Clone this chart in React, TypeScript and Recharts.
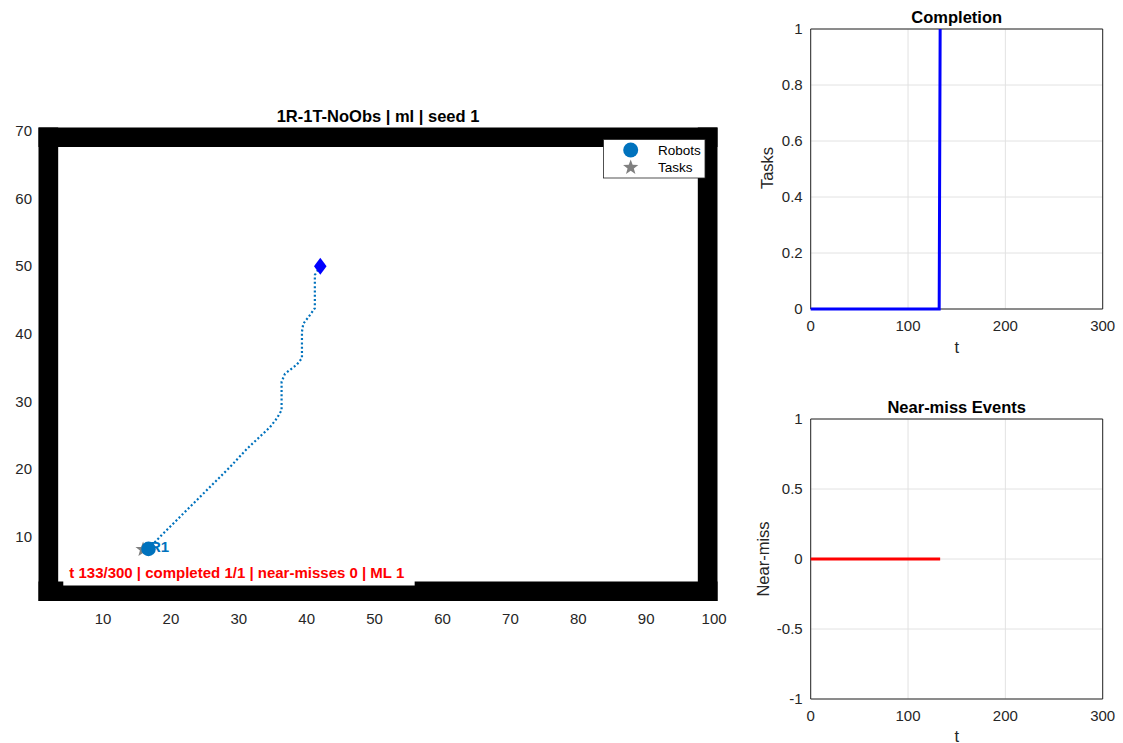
import React from 'react';
import {
  ComposedChart,
  Scatter,
  Line,
  XAxis,
  YAxis,
  CartesianGrid,
  ReferenceArea,
} from 'recharts';

const FONT = '"Liberation Sans", Arial, Helvetica, sans-serif';
const INK = '#262626';
const ROBOT_BLUE = '#0072BD';

// arena (map units)
const mapXTicks = [10, 20, 30, 40, 50, 60, 70, 80, 90, 100];
const mapYTicks = [10, 20, 30, 40, 50, 60, 70];

const walls = [
  { x1: 0.5, x2: 3.4, y1: 0.5, y2: 70.5 },
  { x1: 97.6, x2: 100.5, y1: 0.5, y2: 70.5 },
  { x1: 0.5, x2: 100.5, y1: 0.5, y2: 3.4 },
  { x1: 0.5, x2: 100.5, y1: 67.6, y2: 70.5 },
];

const trajectory = [
  { x: 42.0, y: 50.0 },
  { x: 41.2, y: 48.7 },
  { x: 41.2, y: 43.8 },
  { x: 40.5, y: 42.8 },
  { x: 39.5, y: 41.5 },
  { x: 39.3, y: 40.3 },
  { x: 39.3, y: 36.4 },
  { x: 38.5, y: 35.4 },
  { x: 36.8, y: 34.1 },
  { x: 36.3, y: 32.9 },
  { x: 36.3, y: 28.7 },
  { x: 35.6, y: 27.5 },
  { x: 34.6, y: 26.2 },
  { x: 31.2, y: 23.0 },
  { x: 28.7, y: 20.3 },
  { x: 23.8, y: 15.4 },
  { x: 18.6, y: 10.2 },
  { x: 16.7, y: 8.2 },
];

const robotStart = [{ x: 42, y: 50 }];
const robots = [{ x: 16.7, y: 8.2, name: 'R1' }];
const tasks = [{ x: 15.9, y: 8.1 }];
const statusBox = { x1: 4.15, x2: 55.9, y1: 2.8, y2: 6.6 };
const statusText = 't 133/300 | completed 1/1 | near-misses 0 | ML 1';

// time series
const tTicks = [0, 100, 200, 300];
const completionTicks = [0, 0.2, 0.4, 0.6, 0.8, 1];
const nearMissTicks = [-1, -0.5, 0, 0.5, 1];
const completion = [
  { t: 0, v: 0 },
  { t: 132, v: 0 },
  { t: 133, v: 1 },
];
const nearMiss = [
  { t: 0, v: 0 },
  { t: 133, v: 0 },
];

const tickStyle = { fill: INK, fontSize: 15, fontFamily: FONT };

function starPoints(cx: number, cy: number, R: number, r: number): string {
  const pts: string[] = [];
  for (let i = 0; i < 10; i++) {
    const rad = i % 2 === 0 ? R : r;
    const a = -Math.PI / 2 + (i * Math.PI) / 5;
    pts.push(`${cx + rad * Math.cos(a)},${cy + rad * Math.sin(a)}`);
  }
  return pts.join(' ');
}

const NoMarker = () => <g />;

const DiamondMarker = (p: any) => (
  <polygon
    points={`${p.cx},${p.cy - 8.5} ${p.cx + 6.3},${p.cy} ${p.cx},${p.cy + 8.5} ${p.cx - 6.3},${p.cy}`}
    fill="#0000FF"
  />
);

const StarMarker = (p: any) => (
  <polygon points={starPoints(p.cx, p.cy, 8, 3.3)} fill="#808080" />
);

const RobotMarker = (p: any) => (
  <g>
    <text
      x={p.cx + 1.5}
      y={p.cy + 3.5}
      fill={ROBOT_BLUE}
      fontSize={15}
      fontWeight="bold"
      fontFamily={FONT}
    >
      {p.payload?.name ?? robots[0].name}
    </text>
    <circle cx={p.cx} cy={p.cy} r={7.3} fill={ROBOT_BLUE} />
  </g>
);

// inward MATLAB-style tick marks: mirrored axes that only draw tick lines
function tickMarks(xDomain: [number, number], xTicks: number[], yDomain: [number, number], yTicks: number[], stroke: string) {
  const common = { tick: false, tickSize: 4, mirror: true, axisLine: false, interval: 0 as const, tickLine: { stroke } };
  return [
    <XAxis key="mb" xAxisId="mb" orientation="bottom" type="number" domain={xDomain} ticks={xTicks} height={0} {...common} />,
    <XAxis key="mt" xAxisId="mt" orientation="top" type="number" domain={xDomain} ticks={xTicks} height={0} {...common} />,
    <YAxis key="ml" yAxisId="ml" orientation="left" type="number" domain={yDomain} ticks={yTicks} width={0} {...common} />,
    <YAxis key="mr" yAxisId="mr" orientation="right" type="number" domain={yDomain} ticks={yTicks} width={0} {...common} />,
  ];
}

function ArenaChart() {
  return (
    <ComposedChart
      width={760}
      height={743}
      margin={{ top: 127.5, right: 42.5, bottom: 102, left: 0 }}
    >
      <XAxis
        type="number"
        dataKey="x"
        domain={[0.5, 100.5]}
        ticks={mapXTicks}
        interval={0}
        allowDataOverflow
        height={40}
        tickSize={0}
        tickMargin={12}
        tick={tickStyle}
        tickLine={false}
        axisLine={false}
      />
      <YAxis
        type="number"
        dataKey="y"
        domain={[0.5, 70.5]}
        ticks={mapYTicks}
        interval={0}
        allowDataOverflow
        width={38.5}
        tickSize={0}
        tickMargin={6.5}
        tick={tickStyle}
        tickLine={false}
        axisLine={false}
      />
      {walls.map((w, i) => (
        <ReferenceArea
          key={i}
          {...w}
          fill="#000"
          fillOpacity={1}
          stroke="none"
          ifOverflow="visible"
        />
      ))}
      {tickMarks([0.5, 100.5], mapXTicks, [0.5, 70.5], mapYTicks, '#6a6a6a')}
      <ReferenceArea
        {...statusBox}
        fill="#fff"
        fillOpacity={1}
        stroke="none"
        ifOverflow="visible"
        label={{
          value: statusText,
          position: 'insideLeft',
          offset: 6,
          fill: '#FF0000',
          fontSize: 15,
          fontWeight: 'bold',
          fontFamily: FONT,
        }}
      />
      <Scatter
        data={trajectory}
        fill={ROBOT_BLUE}
        line={{ stroke: ROBOT_BLUE, strokeWidth: 2.2, strokeDasharray: '2 2.3' }}
        lineJointType="linear"
        shape={NoMarker}
        isAnimationActive={false}
      />
      <Scatter data={robotStart} shape={DiamondMarker} isAnimationActive={false} />
      <Scatter data={tasks} shape={StarMarker} isAnimationActive={false} />
      <Scatter data={robots} shape={RobotMarker} isAnimationActive={false} />
    </ComposedChart>
  );
}

function TimePanel({
  data,
  color,
  yDomain,
  yTicks,
}: {
  data: { t: number; v: number }[];
  color: string;
  yDomain: [number, number];
  yTicks: number[];
}) {
  return (
    <ComposedChart
      width={383}
      height={353}
      data={data}
      margin={{ top: 29, right: 20.3, bottom: 4, left: 0 }}
    >
      <CartesianGrid stroke="#e2e2e2" />
      <XAxis
        type="number"
        dataKey="t"
        domain={[0, 300]}
        ticks={tTicks}
        interval={0}
        height={40}
        tickSize={0}
        tickMargin={11}
        tick={tickStyle}
        tickLine={false}
        axisLine={false}
      />
      <YAxis
        type="number"
        domain={yDomain}
        ticks={yTicks}
        interval={0}
        width={70.7}
        tickSize={0}
        tickMargin={8}
        tick={tickStyle}
        tickLine={false}
        axisLine={false}
      />
      {tickMarks([0, 300], tTicks, yDomain, yTicks, INK)}
      <ReferenceArea
        x1={0}
        x2={300}
        y1={yDomain[0]}
        y2={yDomain[1]}
        fill="none"
        stroke={INK}
        strokeWidth={1}
        ifOverflow="visible"
      />
      <Line
        type="linear"
        dataKey="v"
        stroke={color}
        strokeWidth={3}
        dot={false}
        activeDot={false}
        isAnimationActive={false}
      />
    </ComposedChart>
  );
}

function Overlay() {
  return (
    <svg
      width={1123}
      height={743}
      style={{ position: 'absolute', left: 0, top: 0, pointerEvents: 'none' }}
      fontFamily={FONT}
    >
      <text x={378} y={122} textAnchor="middle" fontSize={16.5} fontWeight="bold" fill="#000">
        1R-1T-NoObs | ml | seed 1
      </text>

      {/* legend */}
      <rect x={603.5} y={139.5} width={101.5} height={38.5} fill="#fff" stroke={INK} strokeWidth={0.8} />
      <circle cx={630.7} cy={150} r={7.5} fill={ROBOT_BLUE} />
      <polygon points={starPoints(630.7, 167.5, 8, 3.3)} fill="#808080" />
      <text x={658} y={155} fontSize={13.5} fill="#000">Robots</text>
      <text x={658} y={172.3} fontSize={13.5} fill="#000">Tasks</text>

      <text x={956.7} y={22.5} textAnchor="middle" fontSize={16.5} fontWeight="bold" fill="#000">
        Completion
      </text>
      <text x={956.7} y={352.5} textAnchor="middle" fontSize={16.5} fill={INK}>t</text>
      <text x={773} y={168} textAnchor="middle" fontSize={16.5} fill={INK} transform="rotate(-90 773 168)">
        Tasks
      </text>

      <text x={956.7} y={412.5} textAnchor="middle" fontSize={16.5} fontWeight="bold" fill="#000">
        Near-miss Events
      </text>
      <text x={956.7} y={741.5} textAnchor="middle" fontSize={16.5} fill={INK}>t</text>
      <text x={769} y={559} textAnchor="middle" fontSize={16.5} fill={INK} transform="rotate(-90 769 559)">
        Near-miss
      </text>
    </svg>
  );
}

export default function App() {
  return (
    <div
      style={{
        position: 'absolute',
        left: 0,
        top: 0,
        width: 1123,
        height: 743,
        background: '#fff',
        overflow: 'hidden',
        fontFamily: FONT,
      }}
    >
      <div style={{ position: 'absolute', left: 0, top: 0 }}>
        <ArenaChart />
      </div>
      <div style={{ position: 'absolute', left: 740, top: 0 }}>
        <TimePanel data={completion} color="#0000FF" yDomain={[0, 1]} yTicks={completionTicks} />
      </div>
      <div style={{ position: 'absolute', left: 740, top: 390 }}>
        <TimePanel data={nearMiss} color="#FF0000" yDomain={[-1, 1]} yTicks={nearMissTicks} />
      </div>
      <Overlay />
    </div>
  );
}
